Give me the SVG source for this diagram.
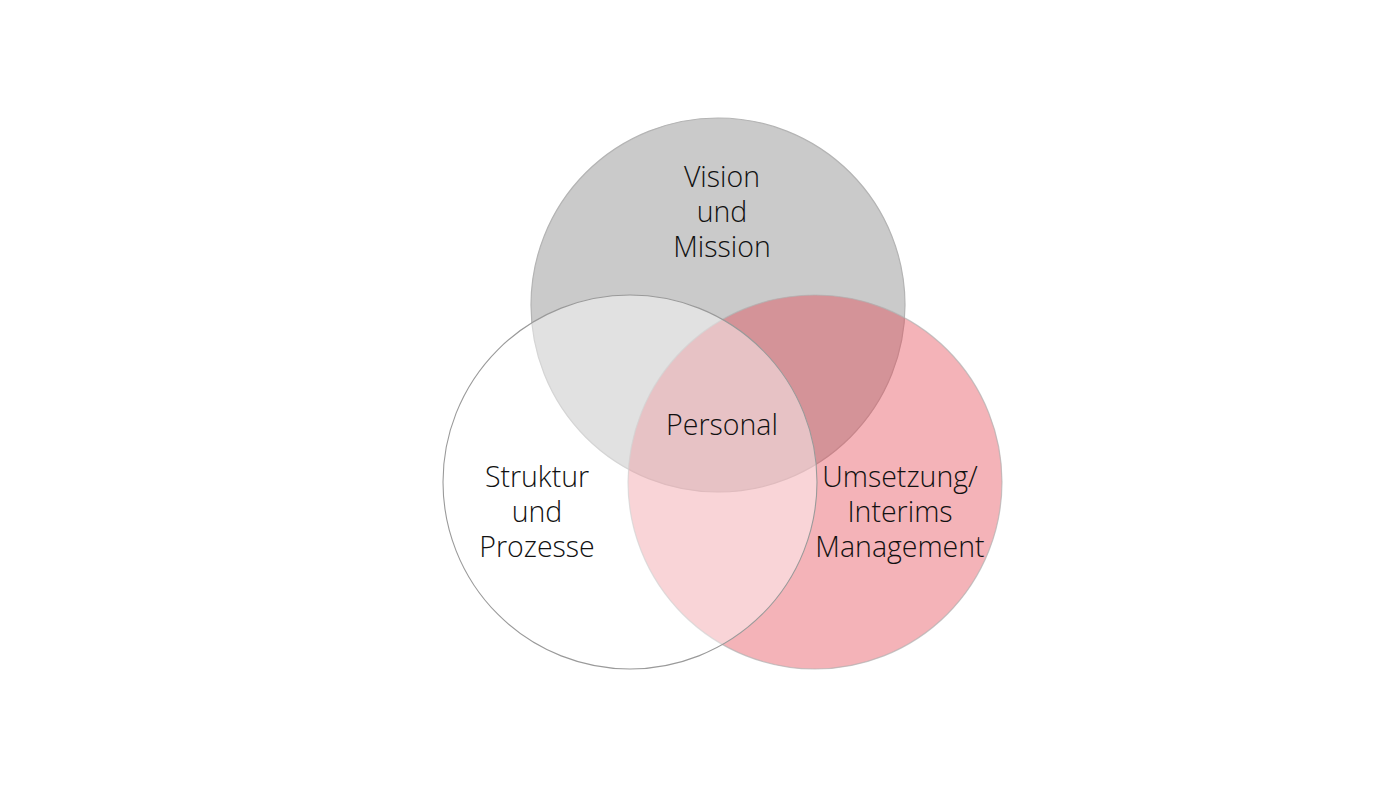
<svg xmlns="http://www.w3.org/2000/svg" width="1400" height="788" viewBox="0 0 1400 788">
<style>
.lbl{font-family:"Open Sans","Liberation Sans",sans-serif;font-weight:300;font-size:28.5px;fill:#111111;text-anchor:middle}
</style>
<rect width="1400" height="788" fill="#ffffff"/>
<g id="vision">
<circle cx="718" cy="305" r="187" fill="#cacaca" stroke="#b4b4b4" stroke-width="1.2"/>
</g>
<g id="umsetzung">
<circle cx="815" cy="482" r="187" fill="#e4414e" fill-opacity="0.4" stroke="#b0b0b0" stroke-opacity="0.7" stroke-width="1.2"/>
</g>
<g id="struktur">
<circle cx="630" cy="482" r="187" fill="#ffffff" fill-opacity="0.44" stroke="#9a9a9a" stroke-width="1.1"/>
</g>
<g id="labels">
<text class="lbl" x="722" y="187">Vision</text>
<text class="lbl" x="722" y="222">und</text>
<text class="lbl" x="722" y="257">Mission</text>
<text class="lbl" x="722" y="435">Personal</text>
<text class="lbl" x="537" y="487">Struktur</text>
<text class="lbl" x="537" y="522">und</text>
<text class="lbl" x="537" y="557">Prozesse</text>
<text class="lbl" x="900" y="487">Umsetzung/</text>
<text class="lbl" x="900" y="522">Interims</text>
<text class="lbl" x="900" y="557">Management</text>
</g>
<g id="connectors"/>
</svg>
